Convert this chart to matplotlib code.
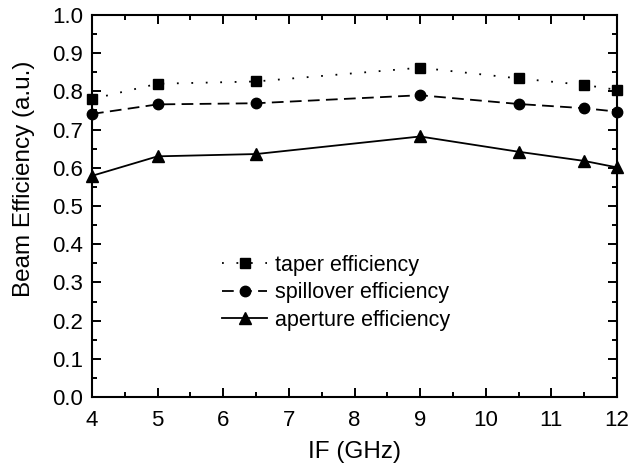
import matplotlib.pyplot as plt
import numpy as np

plt.rcParams['font.family'] = ['Liberation Sans', 'DejaVu Sans']

freq = [4, 5, 6.5, 9, 10.5, 11.5, 12]
taper = [0.780, 0.820, 0.826, 0.862, 0.834, 0.817, 0.804]
spillover = [0.741, 0.766, 0.769, 0.790, 0.767, 0.756, 0.747]
aperture = [0.579, 0.630, 0.636, 0.682, 0.642, 0.618, 0.601]

fig = plt.figure(figsize=(6.29, 4.66), dpi=100)
ax = fig.add_axes([92 / 629, 69 / 466, 525 / 629, 382 / 466])

ax.plot(freq, taper, color='black', lw=1.3, dashes=(1, 7), marker='s', ms=6.5, clip_on=False, label='taper efficiency')
ax.plot(freq, spillover, color='black', lw=1.3, dashes=(6.5, 3.5), marker='o', ms=7.5, clip_on=False, label='spillover efficiency')
ax.plot(freq, aperture, '-', color='black', lw=1.3, marker='^', ms=8, clip_on=False, label='aperture efficiency')

ax.set_xlim(4, 12)
ax.set_ylim(0, 1.0)
ax.set_xticks(np.arange(4, 13, 1))
ax.set_xticks(np.arange(4.5, 12, 1), minor=True)
ax.set_yticks(np.arange(0, 1.01, 0.1))
ax.set_yticks(np.arange(0.05, 1.0, 0.1), minor=True)
ax.yaxis.set_major_formatter(plt.FormatStrFormatter('%.1f'))
ax.tick_params(which='both', direction='in', top=True, right=True, width=1.4, labelsize=16)
ax.tick_params(which='major', length=6.5)
ax.tick_params(which='minor', length=3.5)
ax.tick_params(axis='x', pad=9)
ax.tick_params(axis='y', pad=6.5)
for s in ax.spines.values():
    s.set_linewidth(1.5)

ax.set_xlabel('IF (GHz)', fontsize=17.5, va='center')
ax.xaxis.set_label_coords(0.5, (397 - 452) / 382)
ax.set_ylabel('Beam Efficiency (a.u.)', fontsize=17.5, va='center')
ax.yaxis.set_label_coords((24 - 92) / 525, (397 - 179) / 382)

ax.legend(loc='upper left', bbox_to_anchor=((222 - 92) / 525, (397 - 255) / 382), frameon=False,
          fontsize=15.5, borderpad=0, borderaxespad=0, handlelength=2.1, handletextpad=0.35,
          labelspacing=0.3)

fig.savefig('out.png', dpi=100)
